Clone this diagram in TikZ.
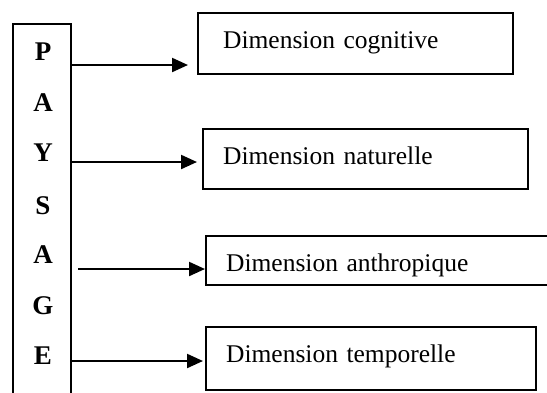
\documentclass[tikz,border=0pt]{standalone}
\usepackage{fontspec}
\setmainfont{Liberation Serif}
\usetikzlibrary{arrows.meta}
\tikzset{
  letter/.style={font=\fontsize{27}{30}\selectfont\bfseries, inner sep=0pt},
  dimbox/.style={draw, line width=2.2pt, anchor=north west, align=left,
    font=\fontsize{25.5}{30}\selectfont, inner xsep=20pt, inner ysep=0pt,
    text height=35pt},
  link/.style={line width=2.2pt, -{Triangle[length=16pt,width=14pt]}},
}
\begin{document}
\begin{tikzpicture}[x=1pt,y=-1pt]
\useasboundingbox (0,0) rectangle (547,392);
\clip (0,0) rectangle (547,392);
% the PAYSAGE column, open at the bottom
\node[draw, line width=1.8pt, anchor=north west, minimum width=58pt,
      minimum height=400pt, inner sep=0pt] (col) at (12,22.7) {};
\node[letter] (l1) at (43,52) {P};
\node[letter] (l2) at (43,103) {A};
\node[letter] (l3) at (43,153) {Y};
\node[letter] (l4) at (43,206) {S};
\node[letter] (l5) at (43,255) {A};
\node[letter] (l6) at (43,306) {G};
\node[letter] (l7) at (43,356) {E};
% the four dimensions
\node[dimbox, inner xsep=25pt, text width=265pt, text depth=26pt] (cog) at (197,12) {Dimension cognitive};
\node[dimbox, text width=285pt, text depth=25pt] (nat) at (202,128) {Dimension naturelle};
\node[dimbox, text width=320pt, text depth=14pt] (ant) at (205,235) {Dimension anthropique};
\node[dimbox, text width=290pt, text depth=28pt] (tem) at (205,326) {Dimension temporelle};
% arrow starts
\coordinate (s1) at (col.east |- 0,65);
\coordinate (s2) at (col.east |- 0,162);
\coordinate (s3) at (78,269);
\coordinate (s4) at (col.east |- 0,361);
\draw[link, shorten >=9pt] (s1) -- (s1 -| cog.west);
\draw[link, shorten >=5pt] (s2) -- (s2 -| nat.west);
\draw[link] (s3) -- (s3 -| ant.west);
\draw[link, shorten >=2pt] (s4) -- (s4 -| tem.west);
\end{tikzpicture}
\end{document}
